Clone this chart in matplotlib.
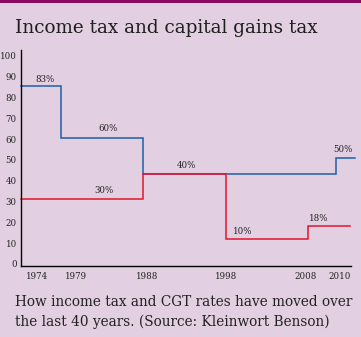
import matplotlib
matplotlib.use("Agg")
import matplotlib.pyplot as plt
from matplotlib.patches import Rectangle

# ---- data (x positions as drawn on the chart's year scale) ----
income_x = [1972.0, 1977.1, 1987.4, 2011.9, 2014.3]
income_y = [85.5, 60.4, 43.3, 51.0]
cgt_x = [1972.0, 1987.4, 1998.0, 2008.3, 2013.6]
cgt_y = [31.2, 43.3, 12.0, 18.3]

tick_years = [1974, 1979, 1988, 1998, 2008, 2012.3]
tick_labels = ["1974", "1979", "1988", "1998", "2008", "2010"]
y_ticks = [0, 10, 20, 30, 40, 50, 60, 70, 80, 90, 100]

rate_labels = ["83%", "60%", "30%", "40%", "10%", "18%", "50%"]
rate_label_x = [1975.0, 1983.0, 1982.5, 1993.0, 2000.0, 2009.7, 2012.8]
rate_label_y = [88.5, 65.0, 35.5, 47.5, 15.5, 22.0, 55.0]

bg = "#E2CFE1"
blue = "#1F5FA5"
red = "#E3152C"
txt = "#222222"
serif = "DejaVu Serif"

fig = plt.figure(figsize=(3.61, 3.37), dpi=100, facecolor=bg)
fig.add_artist(Rectangle((0, 1 - 3/337), 1, 3/337, transform=fig.transFigure,
                         color="#8A0A5E", lw=0))

ax = fig.add_axes([21/361, (337-266)/337, 335/361, 216/337])
ax.set_facecolor(bg)
ax.patch.set_alpha(0)

def steps(xs, ys):
    px, py = [], []
    for i, v in enumerate(ys):
        px += [xs[i], xs[i+1]]
        py += [v, v]
    return px, py

bx, by = steps(income_x, income_y)
rx, ry = steps(cgt_x, cgt_y)
ax.plot(bx, by, color=blue, lw=1.1, clip_on=False, solid_joinstyle="miter")
ax.plot(rx, ry, color=red, lw=1.1, clip_on=False, solid_joinstyle="miter")

ax.set_xlim(1972.0, 2014.4)
ax.set_ylim(-1.0, 102.8)
ax.spines["top"].set_visible(False)
ax.spines["right"].set_visible(False)
ax.spines["left"].set_linewidth(1.0)
ax.spines["bottom"].set_linewidth(1.0)
ax.spines["bottom"].set_bounds(1972.0, 2013.8)

ax.set_yticks(y_ticks)
ax.set_yticklabels([str(v) for v in y_ticks], fontsize=6.2, family=serif, color=txt)
ax.set_xticks(tick_years)
ax.set_xticklabels(tick_labels, fontsize=6.2, family=serif, color=txt)
ax.tick_params(axis="both", length=0, pad=3)
ax.tick_params(axis="x", pad=4)

for lab, x, y in zip(rate_labels, rate_label_x, rate_label_y):
    ax.text(x, y, lab, fontsize=6.2, family=serif, color=txt, ha="center", va="center")

fig.text(15/361, 1 - 28/337, "Income tax and capital gains tax", fontsize=13.2,
         family=serif, weight="medium", color="#1E1E1E", ha="left", va="center")
fig.text(15/361, 1 - 302/337, "How income tax and CGT rates have moved over",
         fontsize=9.8, family=serif, color=txt, ha="left", va="center")
fig.text(15/361, 1 - 322/337, "the last 40 years. (Source: Kleinwort Benson)",
         fontsize=9.8, family=serif, color=txt, ha="left", va="center")

fig.savefig("out.png", dpi=100, facecolor=bg)
